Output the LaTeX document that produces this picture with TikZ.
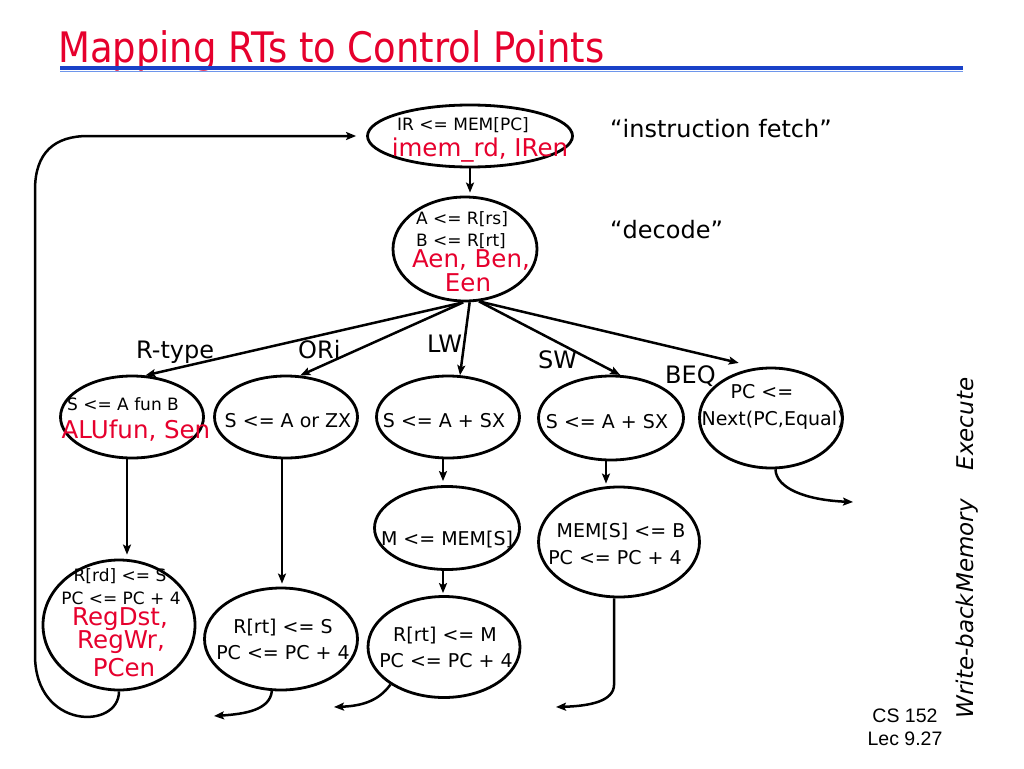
\documentclass[tikz,border=0pt]{standalone}
\usepackage{fontspec}
\setmainfont{DejaVu Sans}
\newfontfamily\titlefont[FakeStretch=0.88]{DejaVu Sans}
\newfontfamily\arialfont{Liberation Sans}
\usetikzlibrary{arrows.meta,calc,shapes.geometric}
\definecolor{ttred}{RGB}{230,0,45}
\definecolor{ulblue}{RGB}{25,65,200}
\definecolor{ullight}{RGB}{110,150,235}
\newcommand\szS{\fontsize{17}{20}\selectfont}
\newcommand\szM{\fontsize{17}{20}\selectfont}
\newcommand\szB{\fontsize{19}{22}\selectfont}
\newcommand\szR{\fontsize{24.5}{28}\selectfont}
\newcommand\szL{\fontsize{24}{27}\selectfont}
\begin{document}
\begin{tikzpicture}[x=1pt,y=-1pt,
  st/.style={draw,ellipse,line width=2.8pt,inner sep=0pt},
  arr/.style={line width=2.5pt,-{Stealth[length=10pt,width=8pt,inset=2pt]}},
  txs/.style={anchor=base,inner sep=0pt,font=\szS},
  txm/.style={anchor=base,inner sep=0pt,font=\szM},
  txb/.style={anchor=base,inner sep=0pt,font=\szB},
  txr/.style={anchor=base,inner sep=0pt,font=\szR,text=ttred},
  lbl/.style={anchor=base west,inner sep=0pt,font=\szL},
  side/.style={anchor=base,inner sep=0pt,rotate=90,font=\fontsize{23}{26}\selectfont\itshape}]
\fill[white] (0,0) rectangle (1024,768);
% title
\node[anchor=base west,inner sep=0pt,text=ttred,font=\titlefont\fontsize{42}{48}\selectfont] (title) at (58,63) {Mapping RTs to Control Points};
\draw[ulblue,line width=4pt] (60,67.5) -- (963,67.5);
\draw[ullight,line width=1pt] (60,71.5) -- (963,71.5);
% states
\node[st,minimum width=205pt,minimum height=62pt] (fetch) at (470,136) {};
\node[st,minimum width=144pt,minimum height=104pt] (decode) at (465,249) {};
\node[st,minimum width=143pt,minimum height=82pt] (rtype) at (132,417) {};
\node[st,minimum width=143pt,minimum height=82pt] (ori) at (286,417) {};
\node[st,minimum width=143pt,minimum height=82pt] (lw) at (448,417) {};
\node[st,minimum width=145pt,minimum height=84pt] (sw) at (611,418) {};
\node[st,minimum width=143pt,minimum height=100pt] (beq) at (771,418) {};
\node[st,minimum width=145pt,minimum height=83pt] (memlw) at (447,528) {};
\node[st,minimum width=161pt,minimum height=110pt] (memsw) at (619,542) {};
\node[st,minimum width=152pt,minimum height=130pt] (wbr) at (119,625) {};
\node[st,minimum width=153pt,minimum height=102pt] (wbori) at (281,639) {};
\node[st,minimum width=152pt,minimum height=101pt] (wblw) at (444,647) {};
% texts
\node[txs] (f1) at (463,130) {IR <= MEM[PC]};
\node[txr] (f2) at (480,156) {imem\_rd, IRen};
\node[txs] (d1) at (462,224) {A <= R[rs]};
\node[txs] (d2) at (461,246) {B <= R[rt]};
\node[txr] (d3) at (471,267) {Aen, Ben,};
\node[txr] (d4) at (468,291) {Een};
\node[txm] (r1) at (123,410) {S <= A fun B};
\node[txr] (r2) at (136,438) {ALUfun, Sen};
\node[txb] (o1) at (288,427) {S <= A or ZX};
\node[txb] (l1) at (444,427) {S <= A + SX};
\node[txb] (s1) at (607,428) {S <= A + SX};
\node[txb] (b1) at (762,398) {PC <=};
\node[txb] (b2) at (773,425) {Next(PC,Equal)};
\node[txb] (m1) at (447,545) {M <= MEM[S]};
\node[txb] (ms1) at (621,537) {MEM[S] <= B};
\node[txb] (ms2) at (615,564) {PC <= PC + 4};
\node[txs] (w1) at (120,581) {R[rd] <= S};
\node[txs] (w2) at (121,604) {PC <= PC + 4};
\node[txr] (w3) at (120,625) {RegDst,};
\node[txr] (w4) at (121,648) {RegWr,};
\node[txr] (w5) at (124,676) {PCen};
\node[txb] (wo1) at (283,633) {R[rt] <= S};
\node[txb] (wo2) at (283,659) {PC <= PC + 4};
\node[txb] (wl1) at (445,641) {R[rt] <= M};
\node[txb] (wl2) at (446,667) {PC <= PC + 4};
% labels
\node[lbl] (lrt) at (136,358) {R-type};
\node[lbl] (lori) at (298,358) {ORi};
\node[lbl] (llw) at (427,352) {LW};
\node[lbl] (lsw) at (538,368) {SW};
\node[lbl] (lbeq) at (665,383) {BEQ};
\node[lbl] (qif) at (610,137) {“instruction fetch”};
\node[lbl] (qdec) at (610,238) {“decode”};
% side texts
\node[side] (sexe) at (973,424) {Execute};
\node[side] (smem) at (973,546) {Memory};
\node[side] (swb) at (973,656) {Write-back};
\node[anchor=base,inner sep=0pt,font=\arialfont\fontsize{19.5}{23}\selectfont] (cs1) at (905,722) {CS 152};
\node[anchor=base,inner sep=0pt,font=\arialfont\fontsize{19.5}{23}\selectfont] (cs2) at (905,745) {Lec 9.27};
% connectors
\draw[arr,shorten >=3pt] (fetch.south) -- (fetch.south |- decode.north);
\draw[arr] (decode.-92) -- (rtype.72);
\draw[arr] (decode.-92) -- (ori.71);
\draw[arr] (decode.-85) -- (lw.74);
\draw[arr] (decode.-75) -- (sw.78);
\draw[arr] (decode.-75) -- ($(beq.125)+(0,-9)$);
\draw[arr,shorten >=4pt] ([xshift=-5pt]rtype.south) -- ([xshift=-5pt]rtype.south |- wbr.north);
\draw[arr,shorten >=3pt] ([xshift=-4pt]ori.south) -- ([xshift=-4pt]ori.south |- wbori.north);
\draw[arr,shorten >=4pt] ([xshift=-5pt]lw.south) -- ([xshift=-5pt]lw.south |- memlw.north);
\draw[arr,shorten >=2pt] ([xshift=-4pt]memlw.south) -- ([xshift=-4pt]memlw.south |- wblw.north);
\draw[arr,shorten >=2pt] ([xshift=-5pt]sw.south) -- ([xshift=-5pt]sw.south |- memsw.north);
% exits
\coordinate (beqout) at (853,502);
\draw[arr] (beq.-85) .. controls (776,488) and (805,500) .. (beqout);
\coordinate (swout) at (556,707);
\draw[arr] (memsw.-95) -- ++(0,86) .. controls +(0,17) and (590,706) .. (swout);
\coordinate (lwout) at (334,707);
\draw[arr] (wblw.-145) .. controls (378,702) and (360,706) .. (lwout);
\coordinate (oriout) at (214,716);
\draw[arr] (wbori.-100) .. controls (270,710) and (245,714) .. (oriout);
% loop back to fetch
\draw[arr,shorten >=10pt] (wbr.south) .. controls (119,730) and (35,730) .. (35,655) -- (35,190) .. controls (35,152) and (55,136) .. (88,136) -- (fetch.west);
\end{tikzpicture}
\end{document}
